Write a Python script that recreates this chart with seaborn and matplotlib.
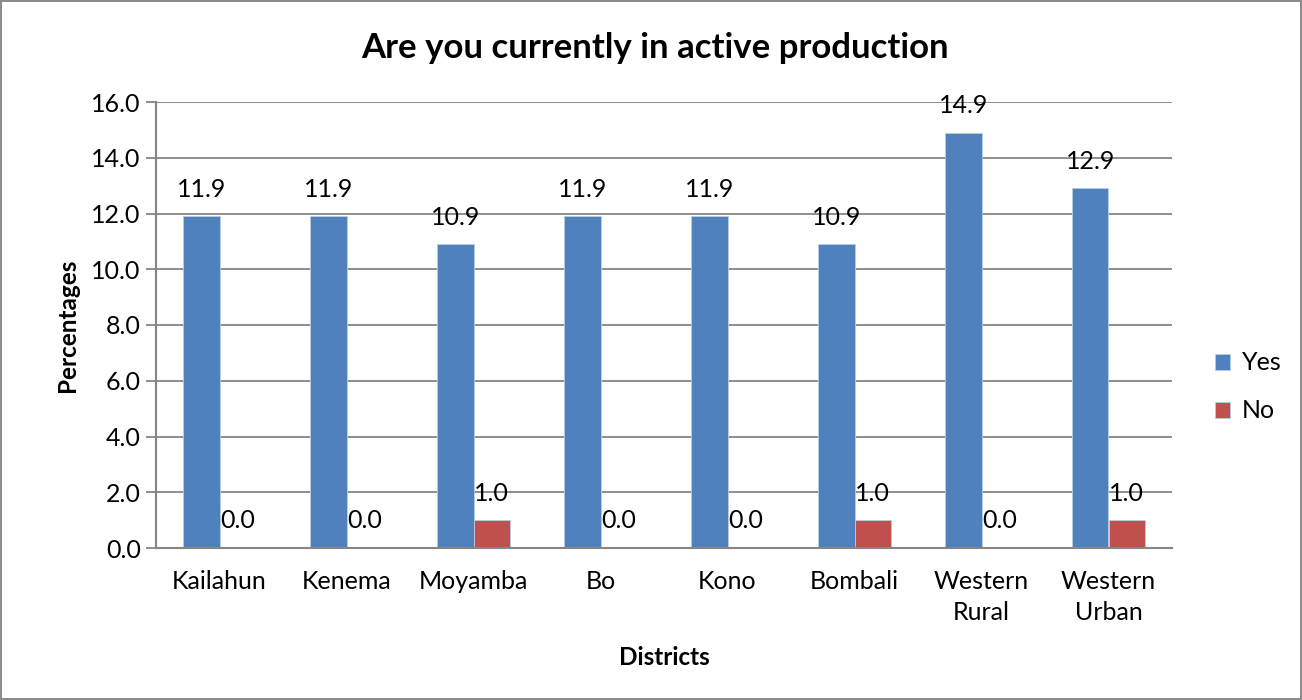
import matplotlib
matplotlib.use("Agg")
import matplotlib.pyplot as plt
import seaborn as sns
import pandas as pd

districts = ["Kailahun", "Kenema", "Moyamba", "Bo", "Kono", "Bombali",
             "Western\nRural", "Western\nUrban"]
yes_values = [11.9, 11.9, 10.9, 11.9, 11.9, 10.9, 14.9, 12.9]
no_values = [0.0, 0.0, 1.0, 0.0, 0.0, 1.0, 0.0, 1.0]
series_names = ["Yes", "No"]
y_ticks = [0, 2, 4, 6, 8, 10, 12, 14, 16]

df = pd.DataFrame({
    "District": districts * 2,
    "Value": yes_values + no_values,
    "Answer": [series_names[0]] * len(districts) + [series_names[1]] * len(districts),
})

sns.set_theme(style="white")
plt.rcParams["font.family"] = ["Lato", "DejaVu Sans"]
plt.rcParams["text.color"] = "black"

FS = 18

fig = plt.figure(figsize=(13.02, 7.0), dpi=100)
fig.patch.set_facecolor("white")
fig.patch.set_edgecolor("#8c8c8c")
fig.patch.set_linewidth(1.5)

ax = fig.add_axes([156 / 1302, 1 - 548 / 700, (1172 - 156) / 1302, (548 - 102) / 700])

palette = {"Yes": "#4F81BD", "No": "#C0504D"}
sns.barplot(data=df, x="District", y="Value", hue="Answer", hue_order=series_names,
            palette=palette, width=0.57, ax=ax, saturation=1.0,
            edgecolor="#b9cde5", linewidth=0.6, legend=True)

ax.set_ylim(0, 16)
ax.set_yticks(y_ticks)
ax.set_yticklabels([f"{t:.1f}" for t in y_ticks], fontsize=FS, color="black")
ax.set_xlim(-0.5, len(districts) - 0.5)
ax.tick_params(axis="x", length=0, pad=16, labelsize=FS, colors="black")
for lab in ax.get_xticklabels():
    lab.set_linespacing(1.4)
ax.tick_params(axis="y", length=7, width=1.3, color="#868686", pad=4, left=True)
ax.yaxis.grid(True, color="#868686", linewidth=1.3)
ax.set_axisbelow(True)
for side in ["top", "right"]:
    ax.spines[side].set_visible(False)
for side in ["left", "bottom"]:
    ax.spines[side].set_color("#868686")
    ax.spines[side].set_linewidth(1.5)

# value labels above each bar
for container in ax.containers:
    for bar in container:
        h = bar.get_height()
        ax.annotate(f"{h:.1f}", (bar.get_x() + bar.get_width() / 2, h),
                    xytext=(0, 19.5), textcoords="offset points",
                    ha="center", va="center", fontsize=FS, color="black")

ax.set_xlabel("Districts", fontsize=17.5, fontweight="bold", labelpad=16, color="black")
ax.set_ylabel("Percentages", fontsize=17.5, fontweight="bold", labelpad=9, color="black")
fig.text(655 / 1302, 1 - 48 / 700, "Are you currently in active production",
         ha="center", va="center", fontsize=25, fontweight="bold", color="black")

leg = ax.legend(loc="center left", frameon=False,
                fontsize=FS, handlelength=0.6, handleheight=0.6, labelspacing=1.0,
                handletextpad=0.5, borderaxespad=0, borderpad=0)
leg.set_bbox_to_anchor((1.042, 1 - (387 - 102) / (548 - 102)), transform=ax.transAxes)
for t in leg.get_texts():
    t.set_color("black")

fig.savefig("out.png", dpi=100, facecolor=fig.get_facecolor(),
            edgecolor=fig.get_edgecolor())
